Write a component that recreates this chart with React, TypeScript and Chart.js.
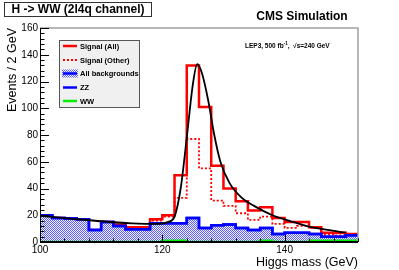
import React, { useEffect, useRef } from "react";
import { Chart, registerables } from "chart.js";

Chart.register(...registerables);

// ---- data ----
const binEdges = [100, 102, 104, 106, 108, 110, 112, 114, 116, 118, 120, 122, 124, 126, 128, 130, 132, 134, 136, 138, 140, 142, 144, 146, 148, 150, 152];
const allBackgrounds = [20, 18, 17.5, 17, 9, 15, 12, 9.5, 9.5, 14, 14, 14, 18, 10.5, 12.5, 13, 10.5, 9, 10.5, 6, 7, 7, 6, 4, 4, 5];
const zz = [20, 18, 17.5, 17, 9, 15, 12, 9.5, 9.5, 14, 14, 14, 18, 10.5, 12.5, 13, 10.5, 9, 10.5, 6, 7, 7, 6, 4, 4, 5];
const ww = [0, 0, 0, 0, 0, 0, 0, 0, 0, 0, 1, 1, 0, 0, 0, 0, 0, 0, 1, 0, 0, 0, 1, 1, 1, 1];
const signalAll = [20, 18, 17.5, 17, 9, 15, 13, 11, 11, 17, 20, 50, 132, 101, 57, 40, 30.5, 23.5, 26, 18, 15, 15, 11, 7, 7, 6];
const signalOther = [20, 18, 17.5, 17, 9, 15, 12.5, 10.5, 10.5, 16, 19, 33, 77, 55, 31, 27, 21.5, 16.5, 19, 13.5, 10.5, 12, 10.5, 5.5, 5, 5];
const fitMass = [100, 105, 110, 115, 119, 121, 122, 123, 124, 125, 125.7, 126.5, 127.5, 128.5, 129.5, 131, 133, 135, 138, 141, 144, 147, 150];
const fitValues = [19.5, 17.5, 15.5, 14, 13.5, 15, 19, 40, 78, 118, 133, 126, 106, 80, 60, 44, 33, 27, 20, 15.5, 11.5, 9, 7];
const yTickLabels = [0, 20, 40, 60, 80, 100, 120, 140, 160];
const xTickLabels = [100, 120, 140];
const legendLabels = ["Signal (All)", "Signal (Other)", "All backgrounds", "ZZ", "WW"];

const FONT = '"Liberation Sans", Arial, Helvetica, sans-serif';

function histPoints(values: number[]) {
  const pts = values.map((v, i) => ({ x: binEdges[i], y: v }));
  pts.push({ x: binEdges[values.length], y: values[values.length - 1] });
  return pts;
}

function makePattern(): CanvasPattern | string {
  const c = document.createElement("canvas");
  c.width = 2;
  c.height = 2;
  const g = c.getContext("2d");
  if (!g) return "#aaaaff";
  g.fillStyle = "#f4f4ff";
  g.fillRect(0, 0, 2, 2);
  g.fillStyle = "#5c5cff";
  g.fillRect(0, 0, 1, 1);
  g.fillRect(1, 1, 1, 1);
  const p = g.createPattern(c, "repeat");
  return p || "#aaaaff";
}

export default function App() {
  const ref = useRef<HTMLCanvasElement | null>(null);

  useEffect(() => {
    document.body.style.margin = "0";
    const canvas = ref.current;
    if (!canvas) return;
    const pattern = makePattern();

    const decor = {
      id: "rootDecor",
      beforeDraw(chart: any) {
        const ctx = chart.ctx;
        ctx.save();
        ctx.fillStyle = "#ffffff";
        ctx.fillRect(0, 0, chart.width, chart.height);
        ctx.restore();
      },
      afterDatasetsDraw(chart: any) {
        const ctx: CanvasRenderingContext2D = chart.ctx;
        const xs = chart.scales.x;
        const ys = chart.scales.y;
        const a = chart.chartArea;
        ctx.save();
        // frame
        ctx.strokeStyle = "#a0a0a0";
        ctx.lineWidth = 1.5;
        ctx.beginPath();
        ctx.moveTo(a.left, a.top);
        ctx.lineTo(a.right, a.top);
        ctx.lineTo(a.right, a.bottom);
        ctx.stroke();
        ctx.strokeStyle = "#000";
        ctx.lineWidth = 1;
        ctx.beginPath();
        ctx.moveTo(a.left + 0.5, a.top);
        ctx.lineTo(a.left + 0.5, a.bottom);
        ctx.stroke();
        ctx.lineWidth = 2;
        ctx.beginPath();
        ctx.moveTo(a.left, a.bottom);
        ctx.lineTo(a.right, a.bottom);
        ctx.stroke();

        // y ticks
        ctx.lineWidth = 1;
        for (let v = 0; v <= 160; v += 4) {
          const y = Math.round(ys.getPixelForValue(v)) + 0.5;
          const len = v % 20 === 0 ? 9 : 4.5;
          ctx.beginPath();
          ctx.moveTo(a.left, y);
          ctx.lineTo(a.left + len, y);
          ctx.stroke();
        }
        // x ticks
        for (let v = 100; v <= 152; v += 4) {
          const x = Math.round(xs.getPixelForValue(v)) + 0.5;
          const len = (v - 100) % 20 === 0 ? 7 : 3.5;
          ctx.beginPath();
          ctx.moveTo(x, a.bottom);
          ctx.lineTo(x, a.bottom - len);
          ctx.stroke();
        }

        // tick labels
        ctx.fillStyle = "#000";
        ctx.font = `10px ${FONT}`;
        ctx.textAlign = "right";
        ctx.textBaseline = "middle";
        yTickLabels.forEach((v) => {
          ctx.fillText(String(v), a.left - 2, ys.getPixelForValue(v));
        });
        ctx.textAlign = "center";
        ctx.textBaseline = "top";
        xTickLabels.forEach((v) => {
          ctx.fillText(String(v), xs.getPixelForValue(v), a.bottom + 3);
        });

        // axis titles
        ctx.font = `12.5px ${FONT}`;
        ctx.textAlign = "right";
        ctx.textBaseline = "alphabetic";
        ctx.fillText("Higgs mass (GeV)", a.right, 266);
        ctx.save();
        ctx.translate(16, a.top);
        ctx.rotate(-Math.PI / 2);
        ctx.textAlign = "right";
        ctx.fillText("Events / 2 GeV", 0, 0);
        ctx.restore();

        // title box
        ctx.fillStyle = "#fff";
        ctx.fillRect(4.5, 2.5, 147, 14);
        ctx.strokeStyle = "#333";
        ctx.lineWidth = 1;
        ctx.strokeRect(4.5, 2.5, 147, 14);
        ctx.fillStyle = "#000";
        ctx.font = `bold 12px ${FONT}`;
        ctx.textAlign = "center";
        ctx.textBaseline = "middle";
        ctx.fillText("H -> WW (2l4q channel)", 78, 10);

        // CMS Simulation
        ctx.font = `bold 12px ${FONT}`;
        ctx.fillText("CMS Simulation", 302, 17);

        // LEP3 label
        ctx.font = `bold 6.5px ${FONT}`;
        ctx.textAlign = "left";
        ctx.textBaseline = "alphabetic";
        let tx = 245;
        const ty = 47.5;
        const p1 = "LEP3, 500 fb";
        ctx.fillText(p1, tx, ty);
        tx += ctx.measureText(p1).width;
        ctx.font = `bold 4.5px ${FONT}`;
        ctx.fillText("-1", tx, ty - 3);
        tx += ctx.measureText("-1").width;
        ctx.font = `bold 6.5px ${FONT}`;
        ctx.fillText(",  \u221As=240 GeV", tx, ty);

        // legend
        const lx = 59.5, ly = 40.5, lw = 80, lh = 67;
        ctx.fillStyle = "#f0f0f0";
        ctx.fillRect(lx, ly, lw, lh);
        ctx.strokeStyle = "#555";
        ctx.lineWidth = 1;
        ctx.strokeRect(lx, ly, lw, lh);
        const rows = [46, 60, 73.5, 87.5, 101];
        const sx0 = 63, sx1 = 77;
        ctx.strokeStyle = "#ff0000";
        ctx.lineWidth = 2.5;
        ctx.beginPath(); ctx.moveTo(sx0, rows[0]); ctx.lineTo(sx1, rows[0]); ctx.stroke();
        ctx.setLineDash([2, 2]);
        ctx.lineWidth = 2;
        ctx.beginPath(); ctx.moveTo(sx0, rows[1]); ctx.lineTo(sx1, rows[1]); ctx.stroke();
        ctx.setLineDash([]);
        ctx.fillStyle = pattern as any;
        ctx.fillRect(sx0 - 1, rows[2] - 4, sx1 - sx0 + 2, 8);
        ctx.strokeStyle = "#0000ff";
        ctx.lineWidth = 2.5;
        ctx.beginPath(); ctx.moveTo(sx0, rows[2]); ctx.lineTo(sx1, rows[2]); ctx.stroke();
        ctx.beginPath(); ctx.moveTo(sx0, rows[3]); ctx.lineTo(sx1, rows[3]); ctx.stroke();
        ctx.strokeStyle = "#00ee00";
        ctx.beginPath(); ctx.moveTo(sx0, rows[4]); ctx.lineTo(sx1, rows[4]); ctx.stroke();
        ctx.fillStyle = "#000";
        ctx.font = `bold 7.5px ${FONT}`;
        ctx.textAlign = "left";
        ctx.textBaseline = "middle";
        legendLabels.forEach((t, i) => ctx.fillText(t, 80, rows[i] + 0.5));
        ctx.restore();
      },
    };

    const chart = new Chart(canvas, {
      type: "line",
      data: {
        datasets: [
          {
            label: "Fit",
            data: fitMass.map((m, i) => ({ x: m, y: fitValues[i] })),
            borderColor: "#000000",
            borderWidth: 1.8,
            pointRadius: 0,
            cubicInterpolationMode: "monotone",
            fill: false,
            order: 0,
          } as any,
          {
            label: "WW",
            data: histPoints(ww),
            borderColor: "#00ee00",
            borderWidth: 2.5,
            pointRadius: 0,
            stepped: "before",
            fill: false,
            order: 1,
          } as any,
          {
            label: "ZZ",
            data: histPoints(zz),
            borderColor: "#0000ff",
            borderWidth: 2.5,
            pointRadius: 0,
            stepped: "before",
            fill: false,
            order: 2,
          } as any,
          {
            label: "All backgrounds",
            data: histPoints(allBackgrounds),
            borderColor: "#0000ff",
            backgroundColor: pattern as any,
            borderWidth: 2.5,
            pointRadius: 0,
            stepped: "before",
            fill: "origin",
            order: 3,
          } as any,
          {
            label: "Signal (Other)",
            data: histPoints(signalOther),
            borderColor: "#ff0000",
            borderWidth: 1.8,
            borderDash: [2, 2],
            pointRadius: 0,
            stepped: "before",
            fill: false,
            order: 4,
          } as any,
          {
            label: "Signal (All)",
            data: histPoints(signalAll),
            borderColor: "#ff0000",
            borderWidth: 2.5,
            pointRadius: 0,
            stepped: "before",
            fill: false,
            order: 5,
          } as any,
        ],
      },
      options: {
        animation: false,
        responsive: false,
        maintainAspectRatio: false,
        devicePixelRatio: 1,
        layout: { padding: { left: 40, top: 28, right: 41, bottom: 28 } },
        scales: {
          x: { type: "linear", min: 100, max: 152, display: false },
          y: { type: "linear", min: 0, max: 160, display: false },
        },
        plugins: {
          legend: { display: false },
          tooltip: { enabled: false },
          title: { display: false },
        },
      },
      plugins: [decor],
    });
    return () => chart.destroy();
  }, []);

  return (
    <div style={{ width: 399, height: 270, position: "relative" }}>
      <canvas ref={ref} width={399} height={270} style={{ display: "block" }} />
    </div>
  );
}
